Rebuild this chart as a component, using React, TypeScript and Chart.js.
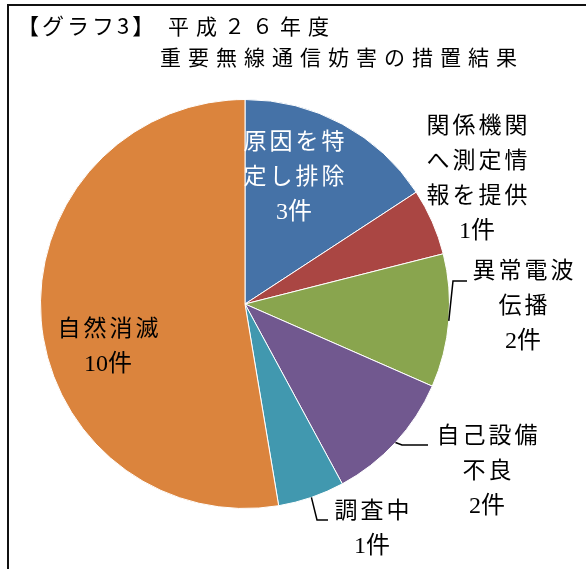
import React, { useEffect, useRef } from "react";
import { Chart, registerables } from "chart.js";

Chart.register(...registerables);

const categories = ["原因を特定し排除", "関係機関へ測定情報を提供", "異常電波伝播", "自己設備不良", "調査中", "自然消滅"];
const counts = [3, 1, 2, 2, 1, 10];
const labelLines = [
  ["原因を特", "定し排除"],
  ["関係機関", "へ測定情", "報を提供"],
  ["異常電波", "伝播"],
  ["自己設備", "不良"],
  ["調査中"],
  ["自然消滅"],
];
const unit = "件";
const sliceColors = ["#4572A7", "#AA4643", "#89A54E", "#71588F", "#4198AF", "#DB843D"];
const titleLines = ["【グラフ3】", "平成２６年度", "重要無線通信妨害の措置結果"];

// label placement relative to the pie centre (layout only)
const LABEL_LAYOUT = [
  { dx: 49, dy: -161, color: "#ffffff", leader: null },
  { dx: 232, dy: -177, color: "#000000", leader: null },
  { dx: 278, dy: -32, color: "#000000", leader: [[208, -23], [222, -23]] },
  { dx: 242, dy: 133, color: "#000000", leader: [[157, 141], [183, 141]] },
  { dx: 127, dy: 208, color: "#000000", leader: [[72, 216], [83, 216]] },
  { dx: -137, dy: 26, color: "#000000", leader: null },
];

const LABEL_FONT = "23px 'Liberation Serif', 'Noto Sans CJK JP', serif";
const COUNT_FONT = "24px 'Liberation Serif', 'Noto Sans CJK JP', serif";

const decorPlugin = {
  id: "decor",
  afterDraw(chart: any) {
    const ctx = chart.ctx as CanvasRenderingContext2D;
    ctx.save();
    // frame
    ctx.fillStyle = "#111";
    ctx.fillRect(7, 4, 2, 565);
    ctx.fillRect(7, 4, 579, 2);

    // title
    ctx.fillStyle = "#000";
    ctx.textBaseline = "middle";
    ctx.textAlign = "left";
    ctx.font = "22px 'Noto Sans CJK JP', sans-serif";
    (ctx as any).letterSpacing = "3px";
    ctx.fillText(titleLines[0], 17, 26);
    ctx.font = "21px 'Noto Sans CJK JP', sans-serif";
    (ctx as any).letterSpacing = "7px";
    ctx.fillText(titleLines[1], 168, 26);
    ctx.fillText(titleLines[2], 160, 57);

    // labels
    const meta = chart.getDatasetMeta(0);
    ctx.textAlign = "center";
    const sp = 3;
    meta.data.forEach((arc: any, i: number) => {
      const cx = arc.x;
      const cy = arc.y;
      const L = LABEL_LAYOUT[i];
      const lines = labelLines[i];
      ctx.fillStyle = L.color;
      ctx.font = LABEL_FONT;
      (ctx as any).letterSpacing = sp + "px";
      lines.forEach((t, k) => {
        ctx.fillText(t, cx + L.dx + sp / 2, cy + L.dy + k * 35);
      });
      ctx.font = COUNT_FONT;
      (ctx as any).letterSpacing = "0px";
      ctx.fillText(`${counts[i]}${unit}`, cx + L.dx, cy + L.dy + lines.length * 35);
      if (L.leader) {
        const mid = (arc.startAngle + arc.endAngle) / 2;
        const r = arc.outerRadius;
        ctx.strokeStyle = "#000";
        ctx.lineWidth = 1.5;
        ctx.beginPath();
        ctx.moveTo(cx + r * Math.cos(mid), cy + r * Math.sin(mid));
        L.leader.forEach((p: number[]) => ctx.lineTo(cx + p[0], cy + p[1]));
        ctx.stroke();
      }
    });
    ctx.restore();
  },
};

export default function App() {
  const ref = useRef<HTMLCanvasElement>(null);
  useEffect(() => {
    if (!ref.current) return;
    const chart = new Chart(ref.current, {
      type: "pie",
      data: {
        labels: categories,
        datasets: [
          {
            data: counts,
            backgroundColor: sliceColors,
            borderColor: "#ffffff",
            borderWidth: 1,
          },
        ],
      },
      options: {
        responsive: false,
        animation: false,
        layout: { padding: { left: 40, right: 136, top: 99, bottom: 60 } },
        plugins: {
          legend: { display: false },
          tooltip: { enabled: false },
          title: { display: false },
        },
      },
      plugins: [decorPlugin],
    });
    return () => chart.destroy();
  }, []);
  return (
    <div style={{ position: "fixed", left: 0, top: 0, width: 586, height: 569, overflow: "hidden", background: "#fff" }}>
      <canvas ref={ref} width={586} height={569} style={{ width: 586, height: 569, display: "block" }} />
    </div>
  );
}
